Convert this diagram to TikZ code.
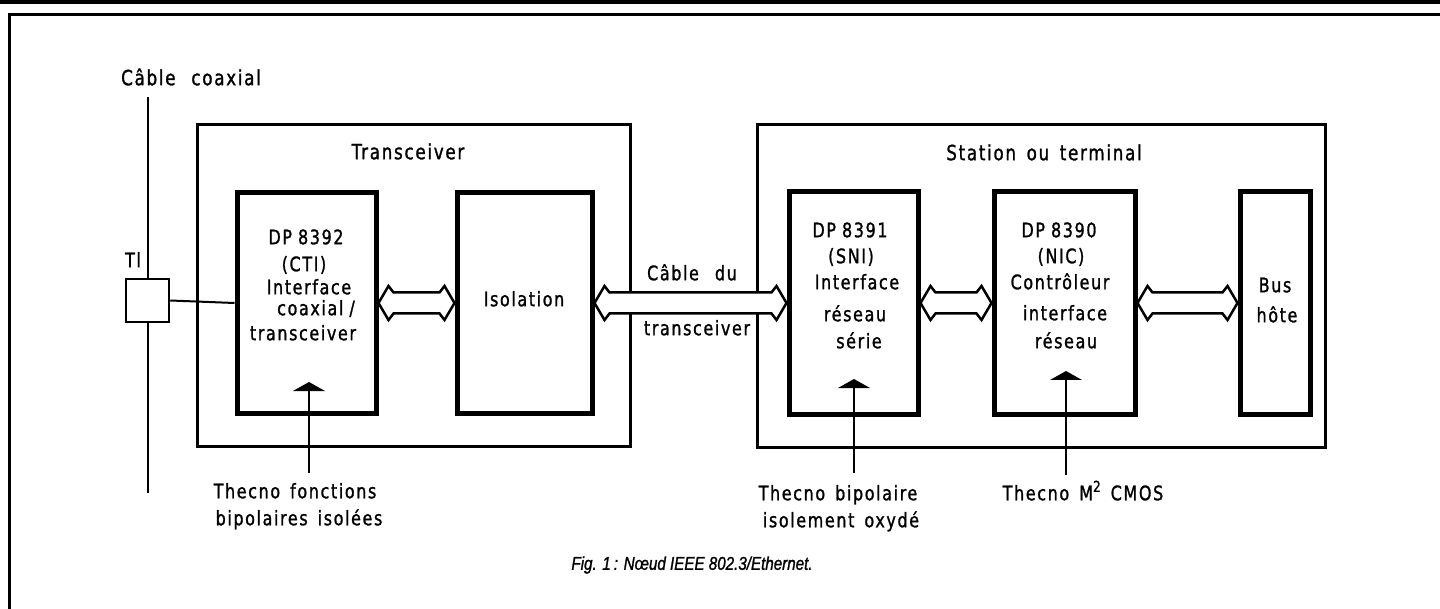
\documentclass[tikz,border=0pt]{standalone}
\usepackage{fontspec}
\setmainfont{DejaVu Sans}[FakeStretch=0.8,FakeBold=1.2,LetterSpace=8,WordSpace=1.5]
\newfontfamily\dpfont{DejaVu Sans}[FakeStretch=0.8,FakeBold=1.2,LetterSpace=8,WordSpace=0.9]
\newfontfamily\capfont{Liberation Sans}[FakeStretch=0.82,FakeBold=1.2]
\usetikzlibrary{calc}
\newcommand\dblarr[2]{%
  \draw[dbl] (#1.east) -- ++(10,-17) -- ++(5,6.5) -- ($(#2.west)+(-15,-10.5)$) -- ++(5,-6.5) -- (#2.west)
    -- ++(-10,17) -- ++(-5,-6.5) -- ($(#1.east)+(15,10.5)$) -- ++(-5,6.5) -- cycle;}
\newcommand\pointer[2]{%
  \draw[wire] (#1) -- ($(#2)+(0,8)$);
  \fill (#2) -- ++(-16,9) -- ++(32,0) -- cycle;}
\begin{document}
\begin{tikzpicture}[x=1pt,y=-1pt,
  outerbox/.style={draw, line width=3pt, inner sep=0pt},
  innerbox/.style={draw, line width=5pt, inner sep=0pt},
  tibox/.style={draw, line width=2.5pt, inner sep=0pt, minimum width=43pt, minimum height=43pt},
  wire/.style={line width=2pt},
  dbl/.style={draw, fill=white, line width=2.5pt, line join=miter},
  lbl/.style={inner sep=0pt, font=\fontsize{20}{23}\selectfont, text height=14pt, text depth=3.5pt},
  dplbl/.style={lbl, font=\dpfont\fontsize{20}{23}\selectfont},
  biglbl/.style={lbl, font=\fontsize{21}{24}\selectfont},
  figcaption/.style={inner sep=0pt, font=\capfont\itshape\fontsize{18.5}{21}\selectfont}]
\useasboundingbox (0,0) rectangle (1440,609);
% page frame
\draw[line width=4pt] (0,2) -- (1440,2);
\draw[line width=3pt] (9.5,609) -- (9.5,15) -- (1440,15);

% outer boxes
\node[outerbox, minimum width=433pt, minimum height=321pt] (trans) at (413.5,285.5) {};
\node[outerbox, minimum width=568pt, minimum height=322pt] (station) at (1041,286) {};
% inner boxes
\node[innerbox, minimum width=139pt, minimum height=220pt] (cti) at (306.5,303) {};
\node[innerbox, minimum width=135pt, minimum height=220pt] (iso) at (524.5,303) {};
\node[innerbox, minimum width=129pt, minimum height=222pt] (sni) at (853.5,303) {};
\node[innerbox, minimum width=141pt, minimum height=223pt] (nic) at (1064.5,303) {};
\node[innerbox, minimum width=70pt, minimum height=223pt] (bus) at (1275,303) {};
% TI and coax
\node[tibox] (ti) at (147.5,300.5) {};
\coordinate (coaxtop) at (147.5,97);
\coordinate (coaxbot) at (147.5,493);
\draw[wire] (coaxtop) -- (ti.north);
\draw[wire] (ti.south) -- (coaxbot);
\draw[wire] (ti.east) -- (cti.west);

% double arrows
\dblarr{cti}{iso}
\dblarr{iso}{sni}
\dblarr{sni}{nic}
\dblarr{nic}{bus}

% technology pointers
\coordinate (p1) at (309,473); \coordinate (h1) at (309,382);
\coordinate (p2) at (854,473); \coordinate (h2) at (854,379);
\coordinate (p3) at (1066,475); \coordinate (h3) at (1066,371);
\pointer{p1}{h1}
\pointer{p2}{h2}
\pointer{p3}{h3}

% labels
\node[biglbl] (lcoax) at (191,80) {Câble\hspace{0.25em} coaxial};
\node[lbl] (lti) at (133,262) {Tl};
\node[biglbl] (ltrans) at (408,154) {Transceiver};
\node[biglbl] (lstation) at (1044,155) {Station ou terminal};

\node[dplbl] (c1) at (306,239) {DP 8392};
\node[lbl] (c2) at (304,266) {(CTI)};
\node[lbl] (c3) at (309,289) {Interface};
\node[dplbl] (c4) at (316,310) {coaxial /};
\node[lbl] (c5) at (303,335) {transceiver};

\node[lbl] (liso) at (524,301) {Isolation};

\node[lbl] (k1) at (692,275) {Câble\hspace{0.3em} du};
\node[lbl] (k2) at (697,330) {transceiver};

\node[dplbl] (s1) at (850,232) {DP 8391};
\node[lbl] (s2) at (851,258) {(SNI)};
\node[lbl] (s3) at (857,284) {Interface};
\node[lbl] (s4) at (855,316) {réseau};
\node[lbl] (s5) at (859,343) {série};

\node[dplbl] (n1) at (1059,232) {DP 8390};
\node[lbl] (n2) at (1061,258) {(NIC)};
\node[lbl] (n3) at (1060,284) {Contrôleur};
\node[lbl] (n4) at (1065,315) {interface};
\node[lbl] (n5) at (1066,343) {réseau};

\node[lbl] (b1) at (1275,287) {Bus};
\node[lbl] (b2) at (1277,317) {hôte};

\node[lbl] (t1a) at (295,493) {Thecno fonctions};
\node[lbl] (t1b) at (299,520) {bipolaires isolées};
\node[lbl] (t2a) at (838,495) {Thecno bipolaire};
\node[lbl] (t2b) at (841,522) {isolement oxydé};
\node[lbl] (t3) at (1083,495) {Thecno M\raisebox{0.42em}{\fontsize{15}{15}\selectfont 2} CMOS};

\node[figcaption] (caption) at (692,565) {Fig. 1\,: Nœud IEEE 802.3/Ethernet.};
\end{tikzpicture}
\end{document}
